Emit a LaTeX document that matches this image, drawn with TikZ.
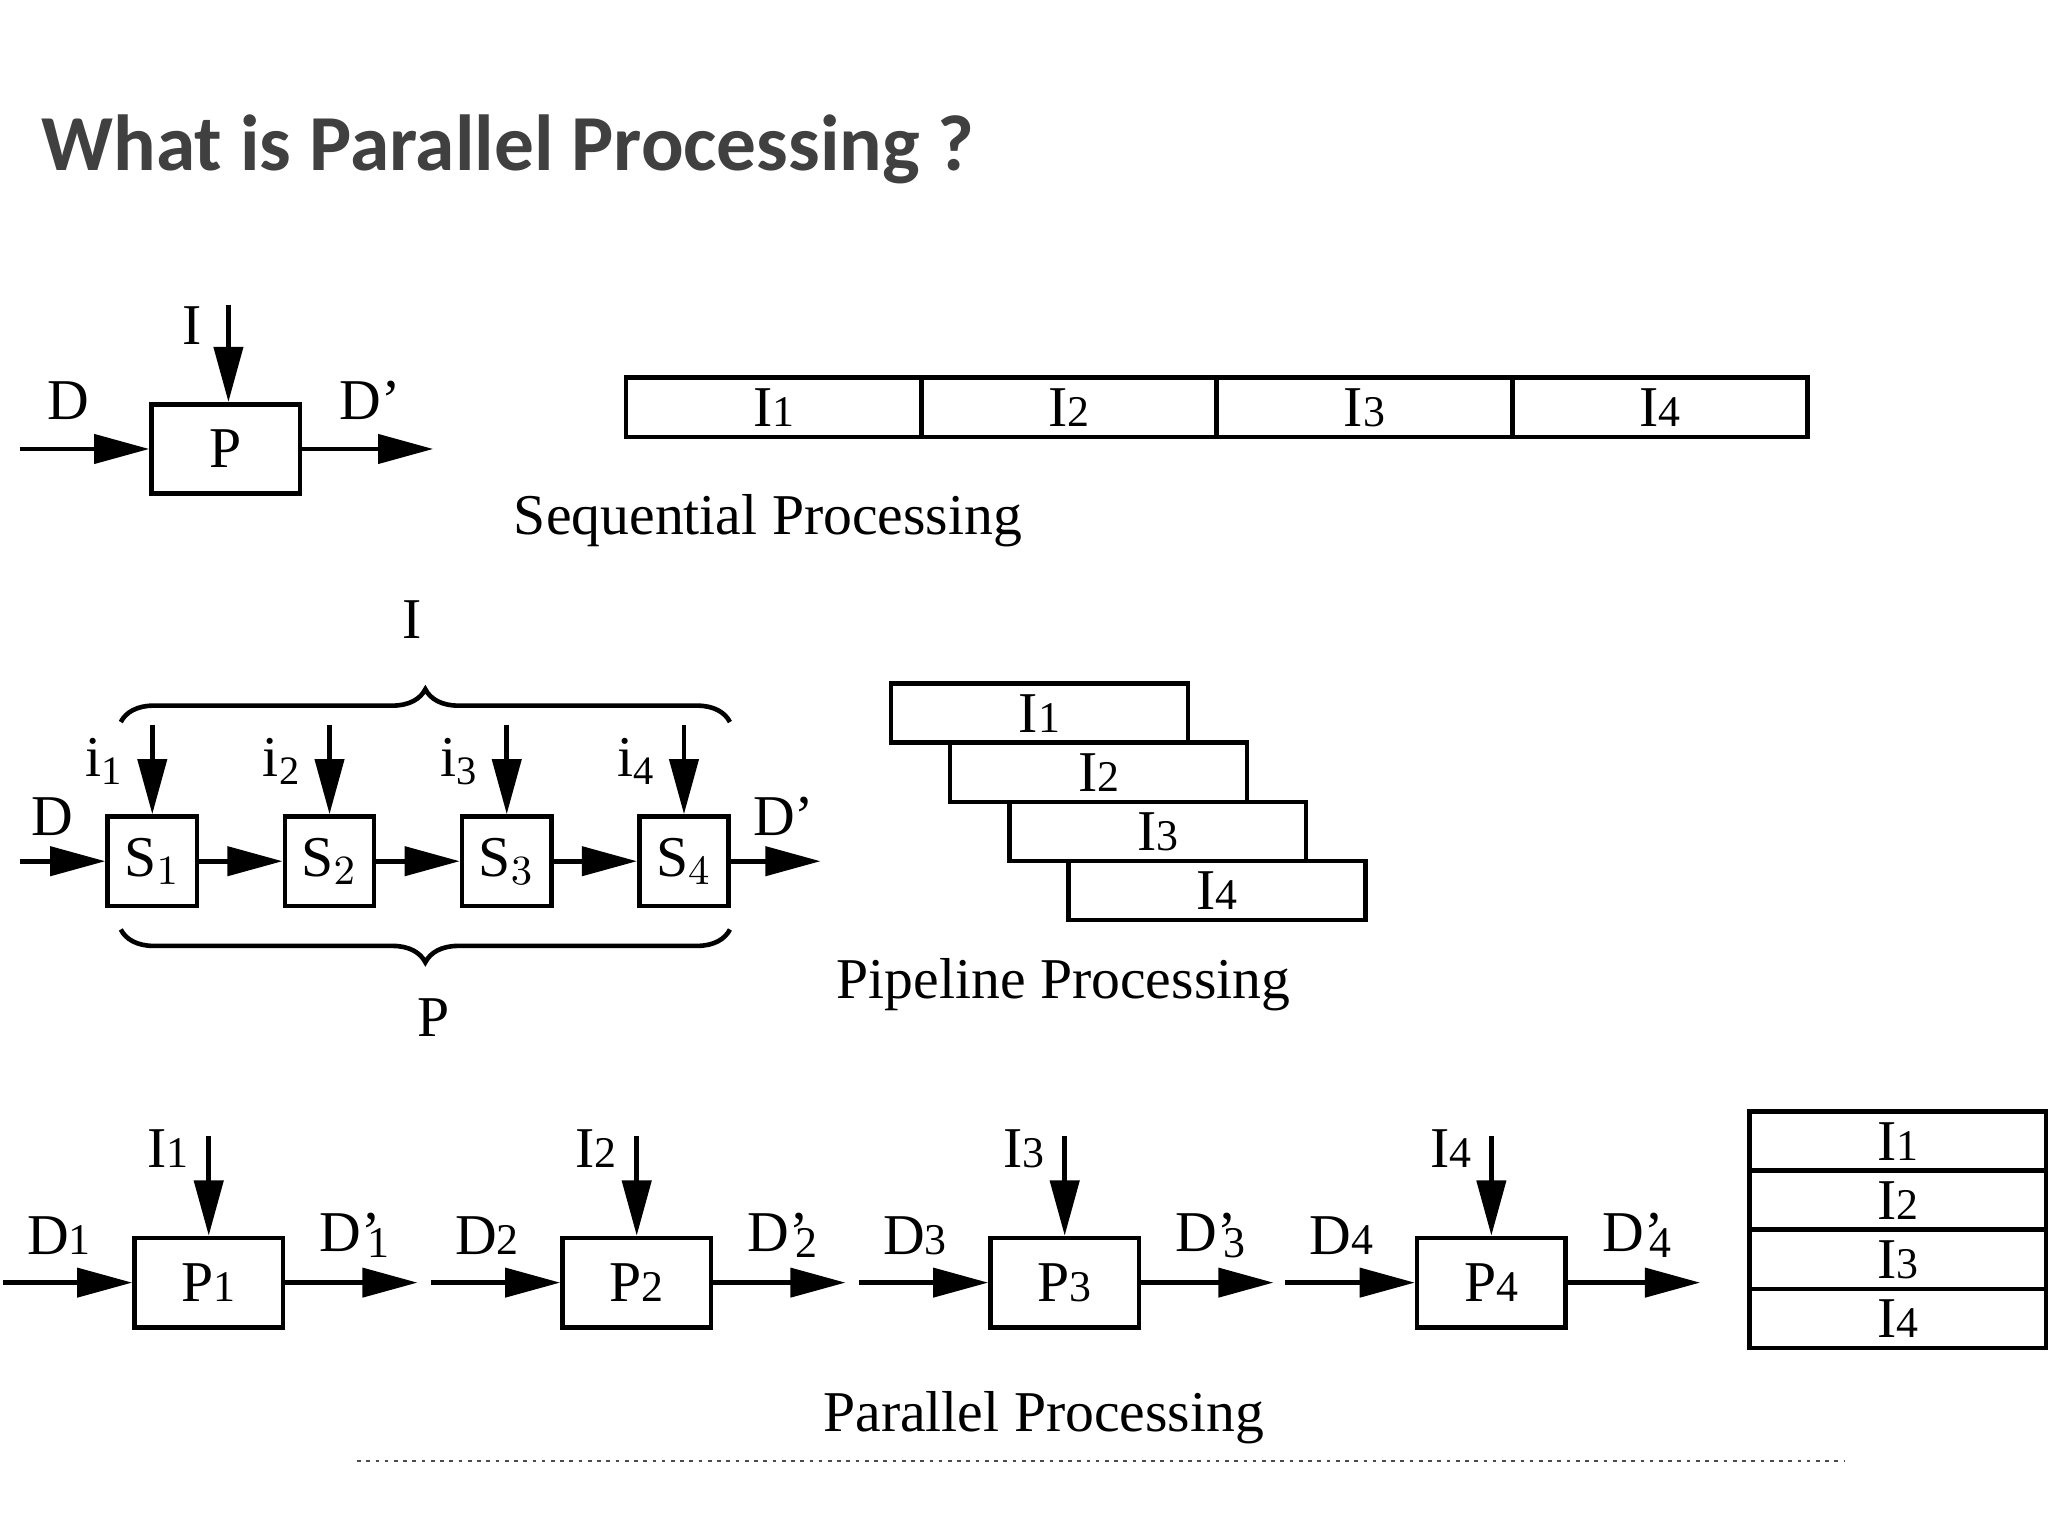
\documentclass[tikz,border=0pt]{standalone}
\usepackage{fontspec}
\setmainfont{Liberation Serif}
\newfontfamily\titlefont{Carlito}
\usetikzlibrary{arrows.meta,decorations.pathreplacing}
\definecolor{titlegray}{HTML}{404040}
\newcommand{\sm}[1]{{\fontsize{9.5}{10}\selectfont #1}}
\newcommand{\Dp}[1]{D\rlap{’}\kern0.1em\raisebox{-0.1em}{\sm{#1}}}
\begin{document}
\begin{tikzpicture}[x=0.01cm,y=-0.01cm,
  line width=1pt,
  every node/.style={font=\fontsize{12.5}{15}\selectfont},
  arr/.style={-{Triangle[length=0.42cm,width=0.22cm]}},
  cell/.style={draw,line width=1pt,inner sep=0pt,anchor=north west},
  brc/.style={decorate,decoration={brace,amplitude=0.25cm},line width=1pt}]
\useasboundingbox (0,0) rectangle (1560,1170);
% title
\node[anchor=base west,font=\titlefont\bfseries\fontsize{17.2}{20}\selectfont,text=titlegray,inner sep=0pt] (title) at (30,130) {What is Parallel Processing ?};
% sequential
\node[draw,minimum width=1.13cm,minimum height=0.68cm,inner sep=0pt] (P) at (172,342) {P};
\coordinate (Din) at (15,342); \coordinate (Dout) at (330,342); \coordinate (Iin) at (174,232);
\draw[arr] (Din) -- (P.west);
\draw[arr] (P.east) -- (Dout);
\draw[arr] (Iin) -- (P.north -| Iin);
\node (lD) at (52,305) {D}; \node (lDp) at (282,305) {D’}; \node (lI) at (146,248) {I};
\foreach \k/\x in {1/475,2/700,3/925,4/1150}{
  \node[cell,minimum width=2.25cm,minimum height=0.45cm] (sq\k) at (\x,286) {I\sm{\k}};}
\node (seq) at (585,397) {Sequential Processing};
% pipeline
\foreach \k/\x in {1/116,2/251,3/386,4/521}{
  \node[draw,minimum width=0.68cm,minimum height=0.68cm,inner sep=0pt] (S\k) at (\x,656) {S$_{\k}$};
  \coordinate (i\k) at (\x,552);
  \draw[arr] (i\k) -- (S\k.north);
  \node (li\k) at (\x-36,580) {i\textsubscript{\k}};}
\coordinate (pD) at (15,656); \coordinate (pDo) at (625,656);
\draw[arr] (pD) -- (S1.west);
\draw[arr] (S1.east) -- (S2.west);
\draw[arr] (S2.east) -- (S3.west);
\draw[arr] (S3.east) -- (S4.west);
\draw[arr] (S4.east) -- (pDo);
\node (plD) at (40,622) {D}; \node (plDp) at (597,622) {D’};
\coordinate (b1) at (92,550); \coordinate (b2) at (556,550);
\coordinate (b3) at (92,708); \coordinate (b4) at (556,708);
\draw[brc] (b1) -- (b2);
\draw[brc] (b4) -- (b3);
\node (bI) at (314,472) {I}; \node (bP) at (330,775) {P};
\foreach \k/\x/\y in {1/677/519,2/722/564,3/767/609,4/812/654}{
  \node[cell,minimum width=2.26cm,minimum height=0.45cm] (pp\k) at (\x,\y) {I\sm{\k}};}
\node (pipe) at (810,750) {Pipeline Processing};
% parallel
\foreach \k/\x in {1/159,2/485,3/811,4/1136}{
  \node[draw,minimum width=1.13cm,minimum height=0.68cm,inner sep=0pt] (Q\k) at (\x,977) {P\sm{\k}};
  \coordinate (qi\k) at (\x,865); \coordinate (qa\k) at (\x-157,977); \coordinate (qb\k) at (\x+159,977);
  \draw[arr] (qi\k) -- (Q\k.north);
  \draw[arr] (qa\k) -- (Q\k.west);
  \draw[arr] (Q\k.east) -- (qb\k);
  \node (qI\k) at (\x-31,875) {I\sm{\k}};
  \node (qD\k) at (\x-114,941) {D\sm{\k}};
  \node (qDp\k) at (\x+111,941) {\Dp{\k}};}
\foreach \k/\y in {1/845,2/890,3/935,4/980}{
  \node[cell,minimum width=2.26cm,minimum height=0.45cm] (st\k) at (1331,\y) {I\sm{\k}};}
\node (par) at (795,1080) {Parallel Processing};
\coordinate (dl1) at (272,1113); \coordinate (dl2) at (1405,1113);
\draw[black!70,line width=0.5pt,dash pattern=on 0.8pt off 1.2pt] (dl1) -- (dl2);
\end{tikzpicture}
\end{document}
